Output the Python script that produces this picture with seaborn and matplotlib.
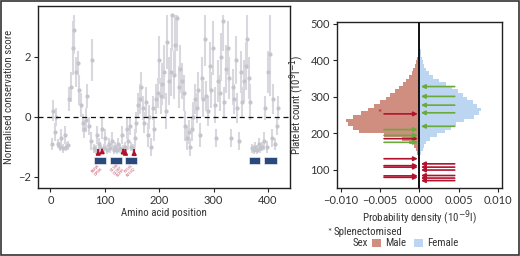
import numpy as np
import pandas as pd
import seaborn as sns
import matplotlib
matplotlib.use('Agg')
import matplotlib.pyplot as plt
from matplotlib import font_manager
from matplotlib.patches import Rectangle

# ---------------- data : conservation profile ----------------
positions = list(range(2, 420, 3))
score = [-0.9, 0.2, -0.5, 0.0, -0.9, -1.0, -0.7, -1.05, -0.6, -1.0,
         -0.95, 0.6, 1.0, 2.3, 2.9, 1.5, 1.8, 0.9, 0.4, -0.2,
         -0.4, -0.1, 0.7, -0.3, -0.8, 1.9, -1.05, -1.1, -0.6, -0.9,
         -1.0, -0.4, -1.05, -0.7, -1.1, -0.9, -1.05, -0.8, -1.1, -1.0,
         -1.1, -0.9, -1.05, -0.6, -1.1, -1.0, -0.4, -0.8, -0.3, -1.0,
         -1.05, -0.7, -0.2, 0.4, 0.6, 1.0, 0.3, -0.2, 0.5, -0.6,
         0.0, -1.0, 0.3, -0.4, 0.6, 0.8, 1.9, 0.7, 1.1, 1.5,
         0.2, 2.5, 1.2, 1.5, 3.4, 1.4, 2.4, 3.3, 1.0, 1.6,
         1.2, 0.8, -0.3, -0.7, -0.5, -1.0, -0.4, 0.0, 0.6, 0.3,
         0.9, -0.6, 1.3, 0.6, 2.6, 0.7, 0.2, 1.7, 0.9, 2.3,
         0.4, -0.7, 1.2, 0.8, 2.0, 3.2, 0.5, 1.6, 2.3, 1.3,
         -0.7, 1.0, 0.6, 1.9, 0.3, -0.8, 1.5, 0.5, 1.2, 1.7,
         2.6, 1.3, 0.5, -1.05, -1.1, -1.0, -1.1, -0.9, -1.05, -1.0,
         -0.8, 0.3, -1.0, 1.5, 2.1, -0.7, 0.6, -0.9, -0.3, 0.3]
score_err = [0.2, 0.35, 0.3, 0.3, 0.15, 0.15, 0.3, 0.15, 0.3, 0.15,
             0.15, 0.4, 0.5, 0.9, 0.8, 0.5, 0.4, 0.5, 0.4, 0.3,
             0.3, 0.4, 0.4, 0.3, 0.3, 0.7, 0.15, 0.15, 0.3, 0.2,
             0.15, 0.35, 0.15, 0.3, 0.15, 0.2, 0.15, 0.3, 0.15, 0.15,
             0.15, 0.2, 0.15, 0.3, 0.15, 0.15, 0.35, 0.3, 0.3, 0.15,
             0.15, 0.3, 0.35, 0.4, 0.5, 0.5, 0.4, 0.35, 0.5, 0.4,
             0.4, 0.3, 0.4, 0.4, 0.5, 0.5, 0.8, 0.6, 0.7, 0.9,
             0.6, 0.9, 0.8, 0.8, 1.2, 0.8, 1.0, 1.1, 0.7, 0.8,
             0.6, 0.6, 0.5, 0.4, 0.4, 0.3, 0.4, 0.5, 0.5, 0.5,
             0.6, 0.4, 0.7, 0.6, 0.9, 0.5, 0.5, 0.8, 0.6, 0.9,
             0.6, 0.3, 0.7, 0.6, 0.8, 1.0, 0.5, 0.8, 0.9, 0.7,
             0.3, 0.6, 0.5, 0.8, 0.5, 0.3, 0.7, 0.5, 0.7, 0.8,
             1.0, 0.7, 0.6, 0.15, 0.15, 0.15, 0.15, 0.2, 0.15, 0.15,
             0.3, 0.4, 0.2, 0.7, 1.4, 0.3, 0.5, 0.2, 0.3, 0.4]

domain_start = [81, 110, 138, 366, 393]
domain_end = [103, 132, 160, 386, 417]

variant_pos = [88, 95, 134, 138, 154]
variant_top = [-1.0, -0.95, -1.05, -1.0, -1.1]
variant_labels = ['R88W\nD95N', 'G134R\nC138Y\nS139F', 'P154L\nR155Q']
variant_label_x = [86, 124, 146]

# ---------------- data : platelet count histograms ----------------
plt_edges = list(range(120, 490, 10))
male_density = [0.0001, 0.0002, 0.0003, 0.0004, 0.0007, 0.0013, 0.0022, 0.0045, 0.0077, 0.0085,
                0.0091, 0.0094, 0.0085, 0.0074, 0.0066, 0.0058, 0.0050, 0.0043, 0.0037, 0.0031,
                0.0026, 0.0021, 0.0017, 0.0013, 0.0010, 0.0008, 0.0005, 0.0004, 0.0003, 0.0002,
                0.0001, 0.0001, 0.00005, 0.00003, 0.00003, 0.00003, 0.00003]
female_density = [0.00005, 0.0001, 0.0002, 0.0004, 0.0006, 0.0009, 0.0014, 0.0022, 0.0033, 0.0040,
                  0.0047, 0.0057, 0.0070, 0.0076, 0.0078, 0.0073, 0.0068, 0.0061, 0.0055, 0.0049,
                  0.0042, 0.0034, 0.0025, 0.0017, 0.0012, 0.0008, 0.0006, 0.0004, 0.0003, 0.0002,
                  0.0002, 0.0001, 0.0001, 0.00005, 0.00005, 0.00003, 0.00003]

# patients (arrows): platelet counts
male_red = [253, 185, 130, 111, 107, 83, 79]
female_red = [116, 107, 99, 84, 77, 70]
male_green = [210, 194, 175]
female_green = [328, 301, 277, 256, 219]
splenectomised = [253]

# ---------------- style ----------------
sns.set_theme(style='ticks')
names = {f.name for f in font_manager.fontManager.ttflist}


def pick(cands):
    for c in cands:
        if c in names:
            return c
    return 'DejaVu Sans'


narrow = pick(['Liberation Sans Narrow', 'Roboto Condensed', 'Open Sans Condensed', 'Lato', 'Liberation Sans'])
body = pick(['Lato', 'Liberation Sans', 'Roboto'])
plt.rcParams['font.family'] = [body, 'DejaVu Sans']
plt.rcParams['axes.linewidth'] = 1.0
plt.rcParams['axes.edgecolor'] = '#222222'

grey_pt = '#c4c4cc'
grey_bar = '#d8d8de'
navy = '#2a4a7c'
red = '#b3122e'
green = '#6aaa3a'
male_col = '#cf8e80'
female_col = '#bcd5f0'
txt = '#333333'

fig = plt.figure(figsize=(5.2, 2.56), dpi=100)
ax1 = fig.add_axes([0.073, 0.266, 0.485, 0.711])
ax2 = fig.add_axes([0.648, 0.266, 0.317, 0.648])

# ---- left panel ----
sc = np.array(score)
er = np.array(score_err)
lo = sc - er
hi = np.minimum(sc + er, 3.4)
ax1.errorbar(positions, sc, yerr=[sc - lo, hi - sc], fmt='none', ecolor=grey_bar, elinewidth=1.5, zorder=1)
df = pd.DataFrame({'pos': positions, 'score': score})
sns.scatterplot(data=df, x='pos', y='score', ax=ax1, color=grey_pt, s=9, linewidth=0, zorder=2)
ax1.axhline(0, color='#111111', lw=0.9, ls=(0, (4, 3)), zorder=3)

for s0, s1 in zip(domain_start, domain_end):
    ax1.add_patch(Rectangle((s0, -1.56), s1 - s0, 0.22, facecolor=navy, edgecolor='white', lw=0.4, zorder=4))
for p, t in zip(variant_pos, variant_top):
    ax1.annotate('', xy=(p, t), xytext=(p, -1.2),
                 arrowprops=dict(arrowstyle='-|>', color=red, lw=1.3, mutation_scale=6), zorder=5)
for lx, lab in zip(variant_label_x, variant_labels):
    ax1.text(lx, -1.78, lab, rotation=45, fontsize=2.6, color='#c2405c', ha='center', va='center',
             linespacing=0.9)

ax1.set_xlim(-23, 441)
ax1.set_ylim(-2.37, 3.7)
ax1.set_xticks([0, 100, 200, 300, 400])
ax1.set_yticks([-2, 0, 2])
ax1.set_xlabel('Amino acid position', fontsize=7.8, family=narrow, labelpad=1.5, color=txt)
ax1.set_ylabel('Normalised conservation score', fontsize=7.8, family=narrow, labelpad=3, color=txt)
ax1.tick_params(labelsize=8, length=3, width=0.8, pad=2, labelcolor=txt)

# ---- right panel ----
edges = plt_edges + [plt_edges[-1] + 10]
centers = [e + 5 for e in plt_edges]
sns.histplot(y=centers, weights=[-m for m in male_density], bins=edges, stat='count',
             element='step', fill=True, color=male_col, alpha=1, linewidth=0, ax=ax2)
sns.histplot(y=centers, weights=female_density, bins=edges, stat='count',
             element='step', fill=True, color=female_col, alpha=1, linewidth=0, ax=ax2)


def arrow(ax, y, side, col):
    x0 = 0.0045 * side
    x1 = 0.0002 * side
    ax.annotate('', xy=(x1, y), xytext=(x0, y),
                arrowprops=dict(arrowstyle='-|>', color=col, lw=1.2, mutation_scale=6,
                                shrinkA=0, shrinkB=0), zorder=5)


for v in male_red:
    arrow(ax2, v, -1, red)
for v in female_red:
    arrow(ax2, v, 1, red)
for v in male_green:
    arrow(ax2, v, -1, green)
for v in female_green:
    arrow(ax2, v, 1, green)
for v in splenectomised:
    ax2.text(-0.0051, v, '*', color=red, fontsize=7, ha='center', va='center')

ax2.axvline(0, color='#111111', lw=1.4, zorder=6)
ax2.set_xlim(-0.0105, 0.0105)
ax2.set_ylim(50, 505)
ax2.set_xticks([-0.01, -0.005, 0, 0.005, 0.01])
ax2.set_xticklabels(['\u22120.010', '\u22120.005', '0.000', '0.005', '0.010'])
ax2.set_yticks([100, 200, 300, 400, 500])
ax2.set_xlabel('Probability density (10$^{-9}$l)', fontsize=7.8, family=narrow, labelpad=1.5, color=txt)
ax2.set_ylabel('Platelet count (10$^{9}$l$^{-1}$)', fontsize=7.8, family=narrow, labelpad=3, color=txt)
ax2.tick_params(labelsize=8, length=3, width=0.8, pad=2, labelcolor=txt)

for ax in (ax1, ax2):
    for sp in ax.spines.values():
        sp.set_visible(True)

# ---- legend ----
fig.text(0.633, 0.090, '*', color=txt, fontsize=7, ha='center', va='center')
fig.text(0.642, 0.094, 'Splenectomised', color=txt, fontsize=7.8, family=narrow, va='center')
fig.text(0.708, 0.050, 'Sex', color=txt, fontsize=7.8, family=narrow, va='center', ha='right')
fig.add_artist(Rectangle((0.716, 0.034), 0.017, 0.033, transform=fig.transFigure, facecolor=male_col, lw=0))
fig.text(0.740, 0.050, 'Male', color=txt, fontsize=7.8, family=narrow, va='center')
fig.add_artist(Rectangle((0.797, 0.034), 0.017, 0.033, transform=fig.transFigure, facecolor=female_col, lw=0))
fig.text(0.821, 0.050, 'Female', color=txt, fontsize=7.8, family=narrow, va='center')

# outer frame
fig.add_artist(Rectangle((0.002, 0.004), 0.996, 0.992, transform=fig.transFigure,
                         facecolor='none', edgecolor='#333333', lw=1.2))

fig.savefig('out.png', dpi=100)
